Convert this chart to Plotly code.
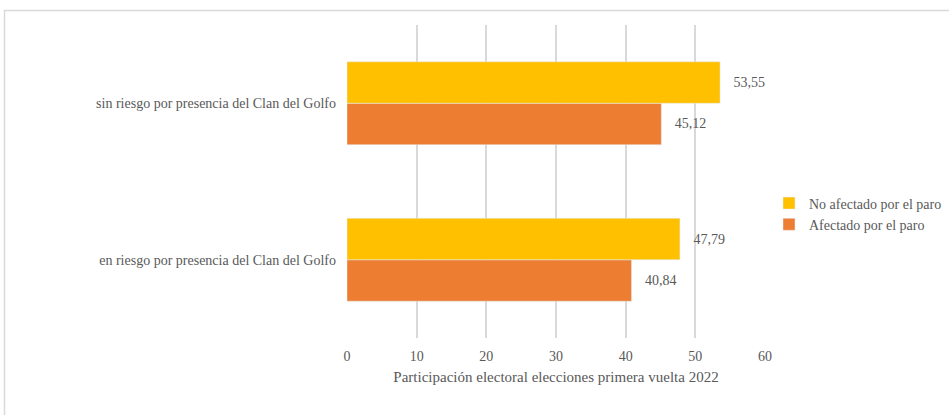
import plotly.graph_objects as go

# Participación electoral por municipio (primera vuelta 2022)
categorias = [
    "en riesgo por presencia del Clan del Golfo",
    "sin riesgo por presencia del Clan del Golfo",
]
afectado = [40.84, 45.12]
no_afectado = [47.79, 53.55]
ticks = [0, 10, 20, 30, 40, 50, 60]

FONT = "Liberation Serif, DejaVu Serif, serif"
GRIS = "#595959"

fig = go.Figure()
fig.add_trace(go.Bar(
    y=categorias, x=afectado, orientation="h",
    name="Afectado por el paro", marker_color="#ED7D31",
    texttemplate="   %{x:.2f}", textposition="outside",
    textfont=dict(family=FONT, size=14, color=GRIS), cliponaxis=False,
))
fig.add_trace(go.Bar(
    y=categorias, x=no_afectado, orientation="h",
    name="No afectado por el paro", marker_color="#FFC000",
    texttemplate="   %{x:.2f}", textposition="outside",
    textfont=dict(family=FONT, size=14, color=GRIS), cliponaxis=False,
))

W, H = 949, 415
L, R, T, B = 347, 184, 25, 77
pw, ph = W - L - R, H - T - B

fig.update_layout(
    width=W, height=H,
    margin=dict(l=L, r=R, t=T, b=B, pad=0, autoexpand=False),
    barmode="group", bargap=0.47, bargroupgap=0,
    separators=",.",
    plot_bgcolor="white", paper_bgcolor="white",
    font=dict(family=FONT, size=14, color=GRIS),
    showlegend=True,
    legend=dict(
        traceorder="reversed", x=(769 - L) / pw, xanchor="left",
        y=(H - B - 214) / ph, yanchor="middle", itemwidth=30,
        font=dict(family=FONT, size=14, color=GRIS),
        tracegroupgap=4,
    ),
    xaxis=dict(
        range=[0, 60], tickvals=ticks, showgrid=True,
        gridcolor="#d9d9d9", gridwidth=2, zeroline=False,
        showline=False, ticks="", ticklabelstandoff=8,
        title=dict(text="Participación electoral elecciones primera vuelta 2022",
                   font=dict(family=FONT, size=15, color=GRIS), standoff=8),
    ),
    yaxis=dict(
        showgrid=False, zeroline=False, showline=False, ticks="",
        ticklabelstandoff=10,
    ),
    shapes=[dict(
        type="rect", xref="paper", yref="paper", layer="below",
        x0=(4.5 - L) / pw, x1=(W + 5 - L) / pw,
        y0=(H - B - (H + 5)) / ph, y1=(H - B - 10.5) / ph,
        line=dict(color="#d9d9d9", width=1.5), fillcolor="rgba(0,0,0,0)",
    )],
)

fig.write_html("out.html")
